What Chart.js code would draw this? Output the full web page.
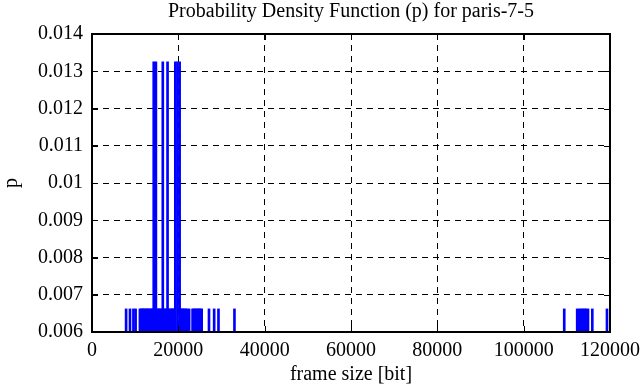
<!DOCTYPE html>
<html>
<head>
<meta charset="utf-8">
<script src="https://cdn.jsdelivr.net/npm/chart.js@4.4.1/dist/chart.umd.min.js"></script>
<style>
  html, body { margin: 0; padding: 0; background: #fff; }
  #wrap { width: 641px; height: 387px; }
</style>
</head>
<body>
<div id="wrap"><canvas id="pdf-chart" width="641" height="387"></canvas></div>
<script>
// frame sizes seen twice (p = 2/151)
const tallSizes = [14300, 14800, 16400, 17500, 19300, 19800, 20300];
const tallP = 0.01325;

// frame sizes seen once (p = 1/151)
const lowSizes = [
    7900, 8800, 9600, 10100,
    11100, 11400, 11700, 11900, 12200, 12500, 12800, 13000, 13300, 13600, 13900, 14100,
    15100, 15400, 15600, 15900, 16200, 16700, 17000, 17200, 17800, 18100, 18400, 18600,
    18900, 19100, 20600, 20900, 21100, 21400, 21700, 22000,
    22500, 23300, 23600, 23900, 24200, 24500, 24800, 25100, 25400,
    27100, 28300, 29300, 33000,
    109400, 112400, 112900, 113300, 113700, 114100, 114400, 114900, 115900, 119300
];
const lowP = 0.00662;

const xTicks = [0, 20000, 40000, 60000, 80000, 100000, 120000];
const yTicks = [0.006, 0.007, 0.008, 0.009, 0.01, 0.011, 0.012, 0.013, 0.014];

const points = lowSizes.map(s => ({ x: s, y: lowP }))
    .concat(tallSizes.map(s => ({ x: s, y: tallP })));

const serif = "'Liberation Serif', 'DejaVu Serif', serif";

// inward tick marks and solid frame, like gnuplot
const frameTicks = {
    id: 'frameTicks',
    afterDraw(chart) {
        const { ctx, chartArea: a, scales } = chart;
        ctx.save();
        ctx.strokeStyle = '#000';
        ctx.lineWidth = 1;
        ctx.setLineDash([]);
        ctx.beginPath();
        const len = 6;
        xTicks.forEach(v => {
            const px = Math.round(scales.x.getPixelForValue(v)) + 0.5;
            ctx.moveTo(px, a.bottom); ctx.lineTo(px, a.bottom - len);
            ctx.moveTo(px, a.top); ctx.lineTo(px, a.top + len);
        });
        yTicks.forEach(v => {
            const py = Math.round(scales.y.getPixelForValue(v)) + 0.5;
            ctx.moveTo(a.left, py); ctx.lineTo(a.left + len, py);
            ctx.moveTo(a.right, py); ctx.lineTo(a.right - len, py);
        });
        ctx.stroke();
        ctx.lineWidth = 2;
        ctx.strokeRect(a.left, a.top, a.right - a.left, a.bottom - a.top);
        ctx.restore();
    }
};

new Chart(document.getElementById('pdf-chart').getContext('2d'), {
    type: 'bar',
    data: {
        datasets: [{
            label: 'p',
            data: points,
            backgroundColor: '#0000ff',
            borderWidth: 0,
            barThickness: 2
        }]
    },
    options: {
        responsive: false,
        animation: false,
        layout: { padding: { left: 0, right: 31, top: 0, bottom: 0 } },
        plugins: {
            legend: { display: false },
            tooltip: { enabled: false },
            title: {
                display: true,
                fullSize: false,
                text: 'Probability Density Function (p) for paris-7-5',
                color: '#000',
                font: { family: serif, size: 20, weight: 'normal' },
                lineHeight: 1.1,
                padding: { top: 0, bottom: 10 }
            }
        },
        scales: {
            x: {
                type: 'linear',
                offset: false,
                min: 0,
                max: 120000,
                afterBuildTicks: s => { s.ticks = xTicks.map(v => ({ value: v })); },
                afterFit: s => { s.height = 55; s.paddingLeft = 0; s.paddingRight = 0; },
                ticks: {
                    color: '#000',
                    font: { family: serif, size: 20 },
                    padding: 7,
                    maxRotation: 0,
                    callback: v => String(v)
                },
                grid: { color: '#000', lineWidth: 1, drawTicks: false, offset: false },
                border: { display: false, dash: [6, 5] },
                title: {
                    display: true,
                    text: 'frame size [bit]',
                    color: '#000',
                    font: { family: serif, size: 20 },
                    padding: { top: 0, bottom: 0 }
                }
            },
            y: {
                min: 0.006,
                max: 0.014,
                afterBuildTicks: s => { s.ticks = yTicks.map(v => ({ value: v })); },
                afterFit: s => { s.width = 92; },
                ticks: {
                    color: '#000',
                    font: { family: serif, size: 20 },
                    padding: 9,
                    callback: v => String(+v.toFixed(3))
                },
                grid: { color: '#000', lineWidth: 1, drawTicks: false },
                border: { display: false, dash: [6, 5] },
                title: {
                    display: true,
                    text: 'p',
                    color: '#000',
                    font: { family: serif, size: 20 },
                    padding: { top: 0, bottom: 2 }
                }
            }
        }
    },
    plugins: [frameTicks]
});
</script>
</body>
</html>
